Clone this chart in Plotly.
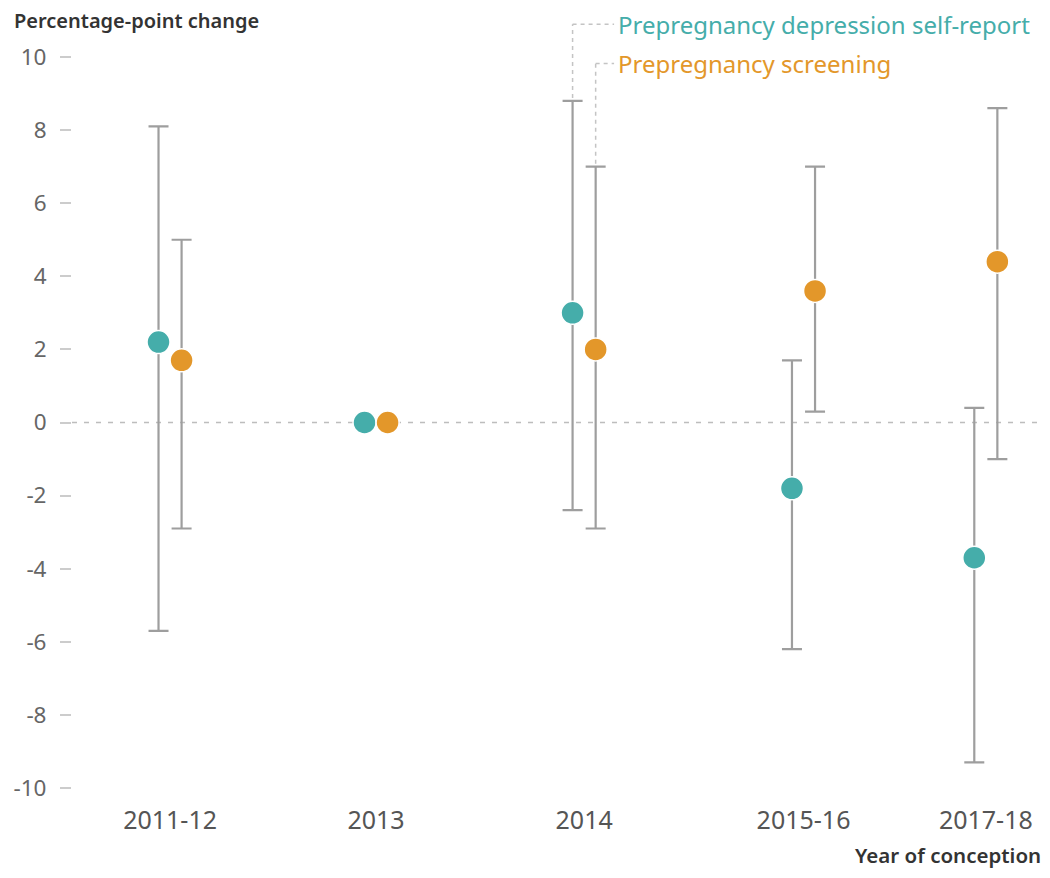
import math
import plotly.graph_objects as go

# ---- data ----
categories = ["2011-12", "2013", "2014", "2015-16", "2017-18"]
category_pos = [0.0, 1.0, 2.01, 3.075, 3.96]

self_report = [2.2, 0.0, 3.0, -1.8, -3.7]
self_report_low = [-5.7, None, -2.4, -6.2, -9.3]
self_report_high = [8.1, None, 8.8, 1.7, 0.4]

screening = [1.7, 0.0, 2.0, 3.6, 4.4]
screening_low = [-2.9, None, -2.9, 0.3, -1.0]
screening_high = [5.0, None, 7.0, 7.0, 8.6]

y_ticks = [-10, -8, -6, -4, -2, 0, 2, 4, 6, 8, 10]
y_ticktext = ["-10", "-8", "-6", "-4", "-2", "0", "2", "4", "6", "8", "10"]

series_names = ["Prepregnancy depression self-report", "Prepregnancy screening"]

# ---- style ----
TEAL = "#45ADAA"
ORANGE = "#E3972A"
ERR = "#9E9E9E"
FONT = "Noto Sans"
OFFSET = 0.056
X_RANGE = [-0.476, 4.223]
Y_RANGE = [-10, 10]


def err_plus(vals, highs):
    return [float("nan") if h is None else h - v for v, h in zip(vals, highs)]


def err_minus(vals, lows):
    return [float("nan") if l is None else v - l for v, l in zip(vals, lows)]


fig = go.Figure()

for vals, lows, highs, color, sign, name in [
    (self_report, self_report_low, self_report_high, TEAL, -1, series_names[0]),
    (screening, screening_low, screening_high, ORANGE, 1, series_names[1]),
]:
    fig.add_trace(go.Scatter(
        x=[p + sign * OFFSET for p in category_pos],
        y=vals,
        mode="markers",
        name=name,
        marker=dict(size=23, color=color, line=dict(color="white", width=1.5)),
        error_y=dict(
            type="data", symmetric=False,
            array=err_plus(vals, highs),
            arrayminus=err_minus(vals, lows),
            color=ERR, thickness=2.2, width=10,
        ),
        showlegend=False,
        cliponaxis=False,
    ))

# zero reference line
fig.add_shape(type="line", xref="paper", yref="y", x0=0, x1=1, y0=0, y1=0,
              line=dict(color="#BDBDBD", width=1.6, dash="5px,7px"), layer="below")


def to_paper(x, y):
    fx = (x - X_RANGE[0]) / (X_RANGE[1] - X_RANGE[0])
    fy = (y - Y_RANGE[0]) / (Y_RANGE[1] - Y_RANGE[0])
    return fx, fy


# leader lines to labels (from the 2014 upper caps)
idx = categories.index("2014")
label_x = 0.562
label_ys = [1.0448, 0.991]
for (highs, sign, ly, color, name) in [
    (self_report_high, -1, label_ys[0], TEAL, series_names[0]),
    (screening_high, 1, label_ys[1], ORANGE, series_names[1]),
]:
    px, py = to_paper(category_pos[idx] + sign * OFFSET, highs[idx])
    fig.add_shape(type="line", xref="paper", yref="paper",
                  x0=px, x1=px, y0=py + 0.004, y1=ly,
                  line=dict(color="#C4C4C4", width=1.5, dash="4px,4px"))
    fig.add_shape(type="line", xref="paper", yref="paper",
                  x0=px, x1=label_x - 0.002, y0=ly, y1=ly,
                  line=dict(color="#C4C4C4", width=1.5, dash="4px,4px"))
    fig.add_annotation(xref="paper", yref="paper", x=label_x, y=ly,
                       xanchor="left", yanchor="middle", showarrow=False,
                       text=name, font=dict(family=FONT, size=24, color=color))

# axis titles
fig.add_annotation(xref="paper", yref="paper", x=-0.062, y=1.0506,
                   xanchor="left", yanchor="middle", showarrow=False,
                   text="Percentage-point change",
                   font=dict(family=FONT, size=20, color="#333333", weight=600))
fig.add_annotation(xref="paper", yref="paper", x=1.003, y=-0.0917,
                   xanchor="right", yanchor="middle", showarrow=False,
                   text="Year of conception",
                   font=dict(family=FONT, size=20.5, color="#333333", weight=600))

fig.update_layout(
    width=1042, height=870,
    margin=dict(l=64, r=10, t=49, b=90, autoexpand=False),
    paper_bgcolor="white", plot_bgcolor="white",
    font=dict(family=FONT, color="#666666"),
    xaxis=dict(
        range=X_RANGE, tickvals=category_pos, ticktext=categories,
        showgrid=False, zeroline=False, showline=False, ticks="",
        tickfont=dict(family=FONT, size=25, color="#555555"),
        ticklabelstandoff=15, automargin=False,
    ),
    yaxis=dict(
        range=Y_RANGE, tickvals=y_ticks, ticktext=y_ticktext,
        showgrid=False, zeroline=False, showline=False,
        ticks="outside", ticklen=11, tickwidth=1.5, tickcolor="#CCCCCC",
        tickfont=dict(family=FONT, size=22.5, color="#666666"),
        ticklabelstandoff=9, automargin=False,
    ),
)

fig.write_html("out.html")
